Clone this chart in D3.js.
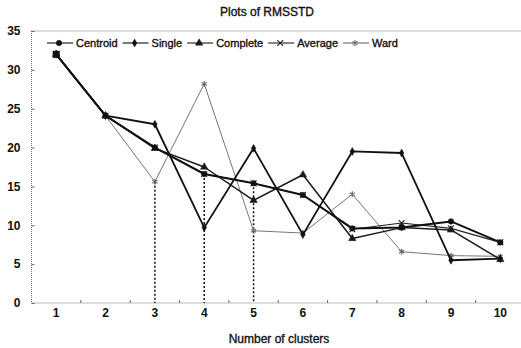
<!DOCTYPE html>
<html>
<head>
<meta charset="utf-8">
<script src="https://cdn.jsdelivr.net/npm/d3@7"></script>
<style>
  body { margin: 0; background: #fff; }
  svg { display: block; font-family: "Liberation Sans", Arial, sans-serif; }
</style>
</head>
<body>
<div id="chart"></div>
<script>
// values
const clusters = [1, 2, 3, 4, 5, 6, 7, 8, 9, 10];
const yTicks = [0, 5, 10, 15, 20, 25, 30, 35];
const centroid = [32, 24.1, 20, 16.6, 15.4, 13.9, 9.6, 9.7, 10.5, 7.8];
const single   = [32, 24.1, 23, 9.7, 19.9, 8.8, 19.5, 19.3, 5.5, 5.7];
const complete = [32, 24.1, 19.9, 17.5, 13.2, 16.5, 8.3, 9.7, 9.4, 5.6];
const average  = [32, 24.1, 20, 16.6, 15.4, 13.9, 9.5, 10.3, 9.6, 7.8];
const ward     = [32, 24.1, 15.6, 28.2, 9.3, 9.0, 14.0, 6.6, 6.1, 6.0];
// dashed drop lines marked on the chart
const dropX = [3, 4, 5];
const dropY = [15.6, 16.6, 15.4];

const series = [
  {name: "Centroid", values: centroid, width: 2, color: "#111", marker: "circle"},
  {name: "Single", values: single, width: 1.8, color: "#111", marker: "diamond"},
  {name: "Complete", values: complete, width: 1.5, color: "#1a1a1a", marker: "triangle"},
  {name: "Average", values: average, width: 1.1, color: "#222", marker: "cross"},
  {name: "Ward", values: ward, width: 0.9, color: "#666", marker: "star"}
];

const W = 521, H = 348;
const plot = {left: 31.5, right: 525, top: 31, bottom: 303};

const svg = d3.select("#chart").append("svg").attr("width", W).attr("height", H);

const x = d3.scaleBand().domain(clusters).range([plot.left, plot.right]).padding(0);
const y = d3.scaleLinear().domain([0, 35]).range([plot.bottom, plot.top]);
const cx = d => x(d) + x.bandwidth() / 2;

// scanned-looking text: regular face with a faint outline
function inkText(sel, size) {
  return sel.attr("font-size", size).attr("fill", "#111")
    .attr("stroke", "#111").attr("stroke-width", 0.35);
}

// frame (dotted, like the scan)
svg.append("rect")
  .attr("x", plot.left).attr("y", plot.top)
  .attr("width", plot.right - plot.left).attr("height", plot.bottom - plot.top)
  .attr("fill", "none").attr("stroke", "#777").attr("stroke-width", 1)
  .attr("stroke-dasharray", "1,1");

// y axis
const yAxis = d3.axisLeft(y).tickValues(yTicks).tickSize(-3).tickPadding(11);
const gy = svg.append("g").attr("transform", `translate(${plot.left},0)`).call(yAxis);
gy.select(".domain").remove();
gy.selectAll("line").attr("stroke", "#666");
gy.selectAll("text").attr("font-size", 12).attr("font-weight", "bold").attr("fill", "#111")
  .attr("font-family", "Liberation Sans, Arial, sans-serif");

// x axis: ticks sit between categories
const gx = svg.append("g").attr("transform", `translate(0,${plot.bottom})`);
gx.selectAll("line.tk").data(clusters.slice(1)).join("line")
  .attr("class", "tk")
  .attr("x1", d => x(d)).attr("x2", d => x(d))
  .attr("y1", 0).attr("y2", -3)
  .attr("stroke", "#666");
gx.selectAll("text").data(clusters).join("text")
  .attr("x", d => cx(d)).attr("y", 14)
  .attr("text-anchor", "middle")
  .attr("font-size", 12).attr("font-weight", "bold").attr("fill", "#111")
  .text(d => d);

// titles
inkText(svg.append("text").attr("x", 267).attr("y", 16).attr("text-anchor", "middle"), 12)
  .text("Plots of RMSSTD");
inkText(svg.append("text").attr("x", 279).attr("y", 343).attr("text-anchor", "middle"), 12)
  .text("Number of clusters");

// dashed drop lines
svg.append("g").selectAll("line").data(dropX).join("line")
  .attr("x1", d => cx(d)).attr("x2", d => cx(d))
  .attr("y1", (d, i) => y(dropY[i])).attr("y2", y(0))
  .attr("stroke", "#111").attr("stroke-width", 1.5)
  .attr("stroke-dasharray", "2,2");

const symbolFor = {
  circle: d3.symbol().type(d3.symbolCircle).size(24),
  diamond: d3.symbol().type(d3.symbolDiamond).size(18),
  triangle: d3.symbol().type(d3.symbolTriangle).size(24),
  cross: d3.symbol().type(d3.symbolTimes).size(24),
  star: d3.symbol().type(d3.symbolAsterisk).size(24)
};

function drawMarker(g, s, px, py) {
  const open = s.marker === "cross" || s.marker === "star";
  g.append("path")
    .attr("d", symbolFor[s.marker]())
    .attr("transform", `translate(${px},${py})`)
    .attr("fill", open ? "none" : s.color)
    .attr("stroke", s.color)
    .attr("stroke-width", open ? 1.1 : 0.5);
}

const line = d3.line().x((d, i) => cx(clusters[i])).y(d => y(d));

// draw lighter series first so heavy lines stay on top
series.slice().reverse().forEach(s => {
  const g = svg.append("g");
  g.append("path").datum(s.values)
    .attr("d", line)
    .attr("fill", "none").attr("stroke", s.color).attr("stroke-width", s.width)
    .attr("stroke-linejoin", "round");
  s.values.forEach((v, i) => drawMarker(g, s, cx(clusters[i]), y(v)));
});

// square blob at the first point, as in the scan
svg.append("rect").attr("x", cx(1) - 3.5).attr("y", y(32) - 3.5)
  .attr("width", 7).attr("height", 7).attr("fill", "#111");

// legend inside the top of the plot
const lg = svg.append("g").attr("transform", "translate(47,43)");
let lx = 0;
series.forEach(s => {
  const g = lg.append("g").attr("transform", `translate(${lx},0)`);
  g.append("line").attr("x1", 0).attr("x2", 26).attr("y1", 0).attr("y2", 0)
    .attr("stroke", s.color).attr("stroke-width", 1.1);
  drawMarker(g, s, 12, 0);
  const t = inkText(g.append("text").attr("x", 29).attr("y", 4), 11)
    .text(s.name);
  lx += 29 + t.node().getComputedTextLength() + 5;
});
</script>
</body>
</html>
